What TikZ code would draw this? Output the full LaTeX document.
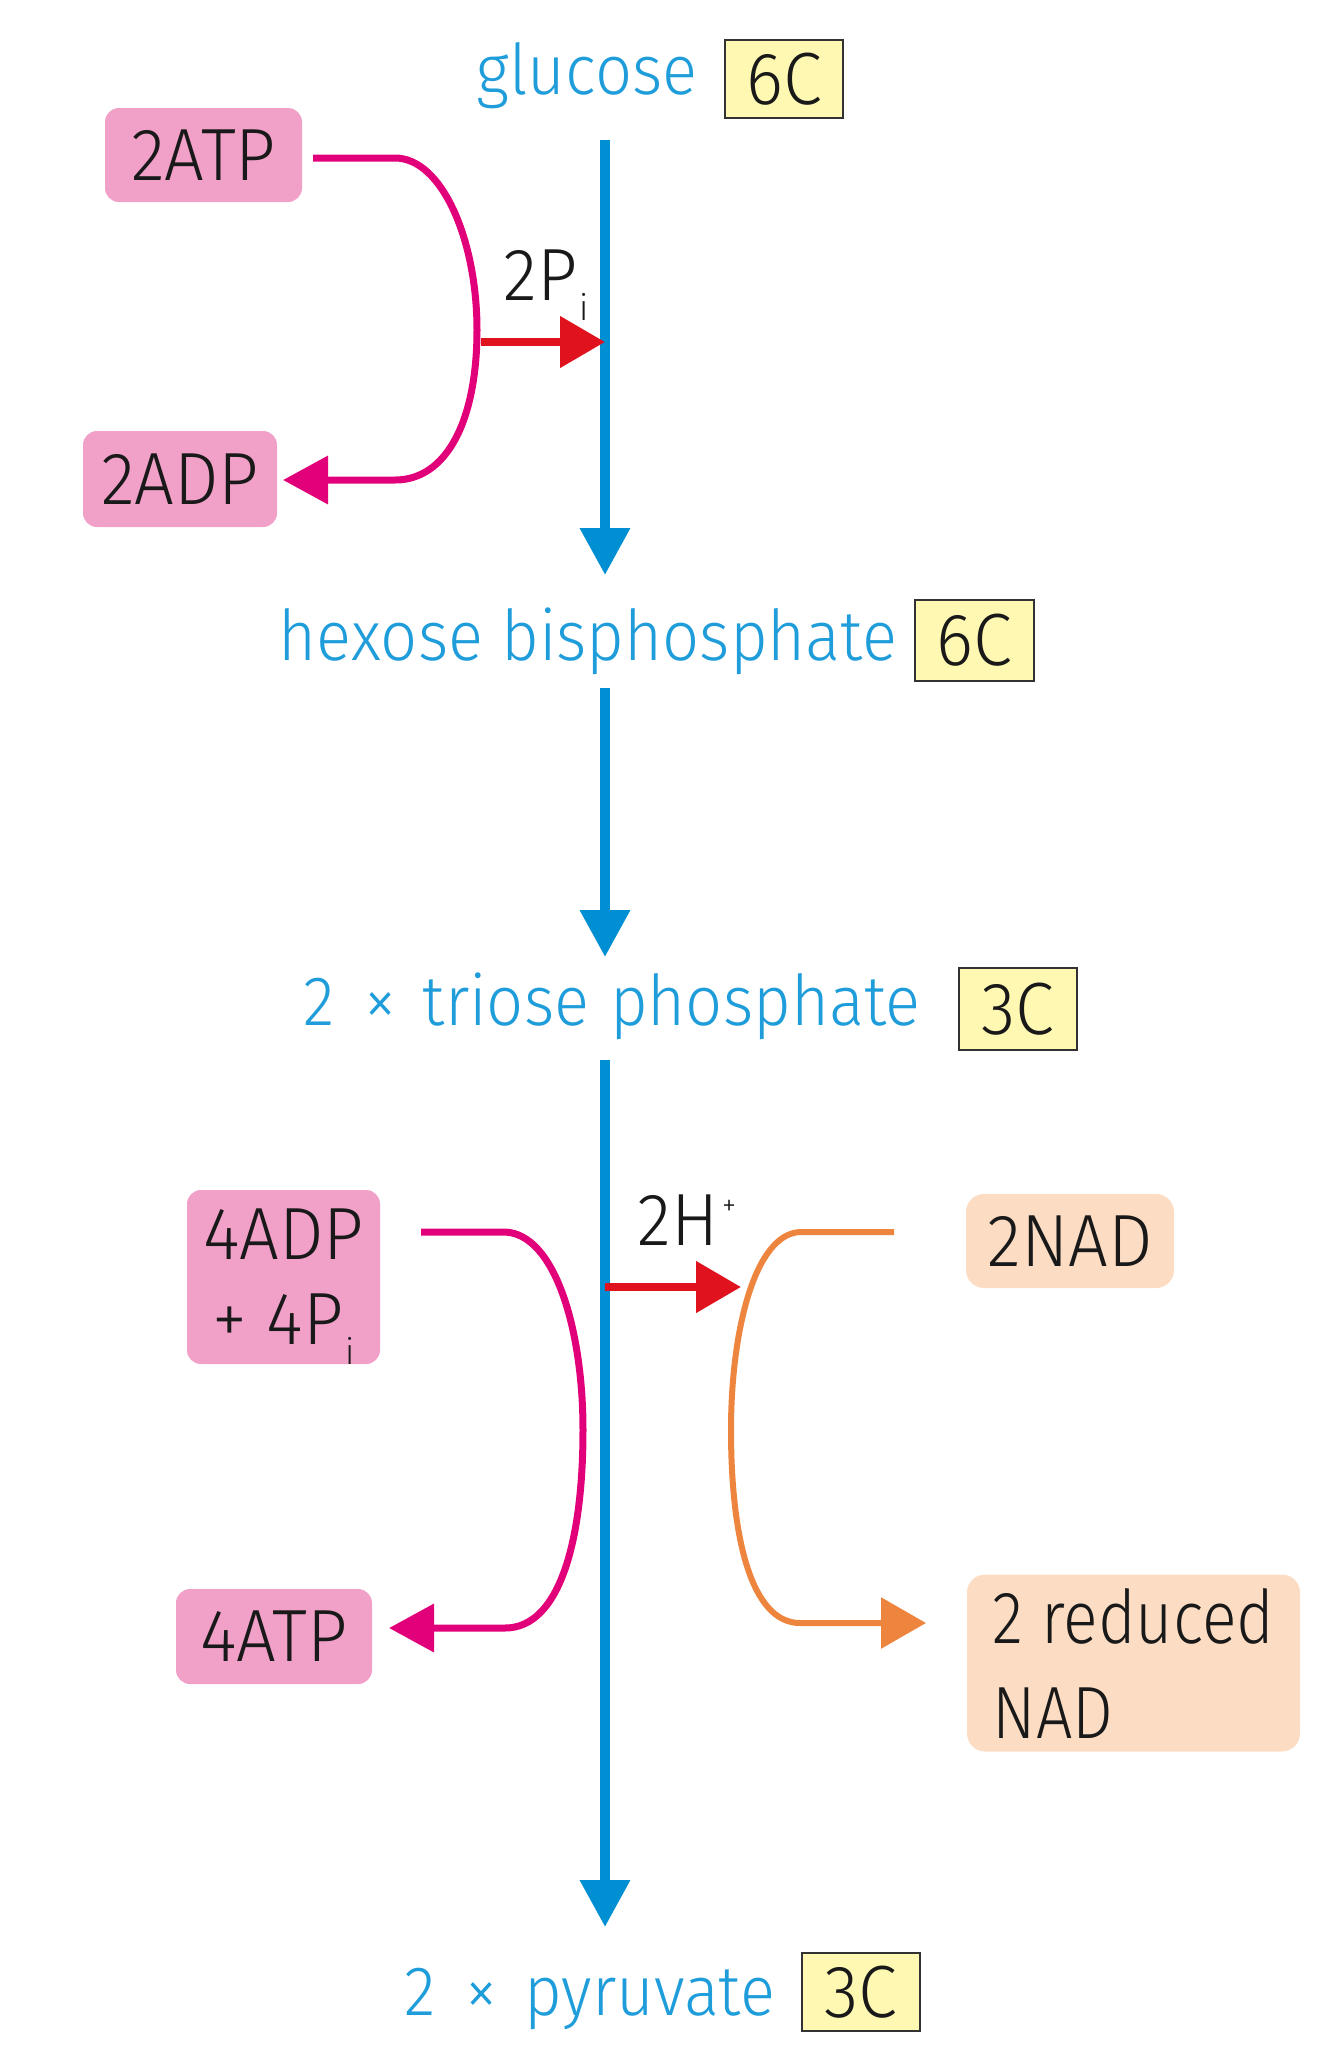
\documentclass[tikz,border=0pt]{standalone}
\usepackage{fontspec}
\setmainfont{Fira Sans Light}
\newfontfamily\blackf{Fira Sans Light}[FakeStretch=0.95]
\newfontfamily\narrowf{Fira Sans Light}[FakeStretch=0.87]
\newfontfamily\bluef{Fira Sans Light}[FakeStretch=0.93]
\usetikzlibrary{arrows.meta}
\definecolor{bline}{RGB}{0,143,211}
\definecolor{btext}{RGB}{30,157,218}
\definecolor{mag}{RGB}{226,0,122}
\definecolor{pinkfill}{RGB}{241,160,200}
\definecolor{peach}{RGB}{252,221,196}
\definecolor{redarr}{RGB}{224,18,30}
\definecolor{orng}{RGB}{238,133,62}
\definecolor{yfill}{RGB}{255,248,178}
\definecolor{yborder}{RGB}{50,50,50}
\definecolor{ink}{RGB}{25,25,25}
\newcommand{\subi}{\smash{\raisebox{-10pt}{\fontsize{18}{18}\selectfont i}}}
\newcommand{\supplus}{\smash{\raisebox{15pt}{\fontsize{15}{15}\selectfont +}}}
\begin{document}
\begin{tikzpicture}[x=0.5pt,y=-0.5pt,
  bluelbl/.style={text=btext, font=\bluef\fontsize{35}{40}\selectfont, inner sep=0pt, anchor=base},
  cbox/.style={draw=yborder, line width=1pt, fill=yfill, inner sep=0pt, text=ink, font=\blackf\fontsize{37}{40}\selectfont},
  pbox/.style={fill=pinkfill, rounded corners=7pt, inner sep=0pt, text=ink, align=center, font=\blackf\fontsize{37}{42.5}\selectfont},
  obox/.style={fill=peach, rounded corners=9pt, inner sep=0pt, text=ink, align=left, font=\blackf\fontsize{37}{47.5}\selectfont},
  lbl/.style={text=ink, inner sep=0pt, font=\blackf\fontsize{37}{40}\selectfont, anchor=base west},
  mainflow/.style={draw=bline, line width=5pt, -{Triangle[width=24pt,length=23.5pt]}},
  magline/.style={draw=mag, line width=3.5pt, line join=round, -{Triangle[width=23.5pt,length=22.5pt]}},
  redline/.style={draw=redarr, line width=4pt, -{Triangle[width=25pt,length=22.5pt]}},
  orline/.style={draw=orng, line width=3pt, line join=round, -{Triangle[width=25pt,length=22.5pt]}}
]
\fill[white] (0,0) rectangle (1334,2058);
\useasboundingbox (0,0) rectangle (1334,2058);

% blue labels and carbon boxes
\node[bluelbl] (glu) at (587,94) {glucose};
\node[cbox, minimum width=59pt, minimum height=39pt] (c1) at (784,79) {6C};
\node[bluelbl] (hex) at (588,660) {hexose bisphosphate};
\node[cbox, minimum width=59.5pt, minimum height=40.5pt] (c2) at (974.5,640.5) {6C};
\node[bluelbl] (tri) at (612,1025) {2\hspace{0.42em}×\hspace{0.38em}triose\hspace{0.3em}phosphate};
\node[cbox, minimum width=59pt, minimum height=41pt] (c3) at (1018,1009) {3C};
\node[bluelbl] (pyr) at (590,2015) {2\hspace{0.42em}×\hspace{0.38em}pyruvate};
\node[cbox, minimum width=59pt, minimum height=39pt] (c4) at (861,1992) {3C};

% side boxes
\node[pbox, minimum width=98.5pt, minimum height=47pt] (atp2) at (203.5,155) {2ATP};
\node[pbox, minimum width=97pt, minimum height=48pt] (adp2) at (180,479) {2ADP};
\node[pbox, minimum width=96.5pt, minimum height=87pt] (adp4) at (283.5,1277) {4ADP\\+ 4P\kern1pt\subi};
\node[pbox, minimum width=98pt, minimum height=47.5pt] (atp4) at (274,1636.5) {4ATP};
\node[obox, minimum width=104pt, minimum height=47pt, align=center] (nad) at (1070,1241) {2NAD};
\node[obox, minimum width=166.5pt, minimum height=88.5pt, font=\narrowf\fontsize{37}{47.5}\selectfont] (rnad) at (1133.5,1663) {2 reduced\\NAD};

% small labels
\node[lbl] (pi) at (503,300) {2P\kern1pt\subi};
\node[lbl] (hp) at (637,1245) {2H\kern2pt\supplus};

% main flow
\coordinate (b1s) at (605,140);
\coordinate (b1e) at (605,575);
\coordinate (b2s) at (605,688);
\coordinate (b2e) at (605,957);
\coordinate (b3s) at (605,1060);
\coordinate (b3e) at (605,1927);
\draw[mainflow] (b1s) -- (b1e);
\draw[mainflow] (b2s) -- (b2e);
\draw[mainflow] (b3s) -- (b3e);

% first ATP loop
\coordinate (m1s) at (313,158);
\coordinate (m1e) at (283,480);
\draw[magline] (m1s) -- (395,158) .. controls (442,158) and (477,240) .. (477,330)
  .. controls (477,420) and (447,480) .. (395,480) -- (m1e);
\coordinate (r1s) at (481,342);
\coordinate (r1e) at (605,342);
\draw[redline] (r1s) -- (r1e);

% second ATP loop
\coordinate (m2s) at (421,1232);
\coordinate (m2e) at (389,1628);
\draw[magline] (m2s) -- (505,1232) .. controls (555,1234) and (583,1330) .. (583,1430)
  .. controls (583,1540) and (560,1628) .. (505,1628) -- (m2e);
\coordinate (r2s) at (605,1287);
\coordinate (r2e) at (741,1287);
\draw[redline] (r2s) -- (r2e);

% NAD loop
\coordinate (o1s) at (894,1232);
\coordinate (o1e) at (926,1623);
\draw[orline] (o1s) -- (800,1232) .. controls (755,1234) and (731,1330) .. (731,1430)
  .. controls (731,1540) and (752,1623) .. (800,1623) -- (o1e);
\end{tikzpicture}
\end{document}
